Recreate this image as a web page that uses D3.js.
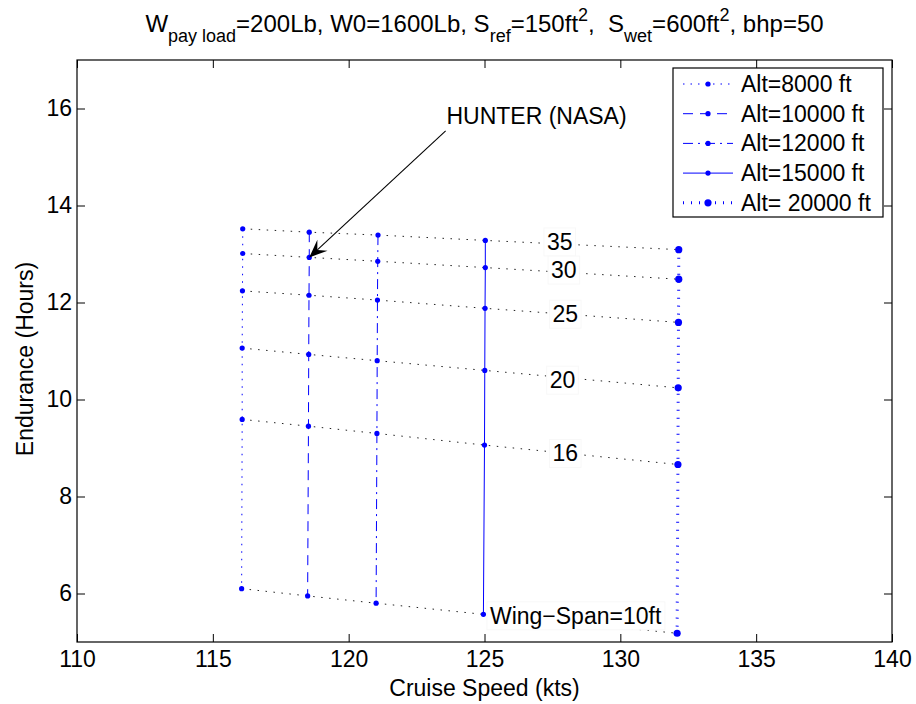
<!DOCTYPE html>
<html>
<head>
<meta charset="utf-8">
<script src="https://cdn.jsdelivr.net/npm/d3@7"></script>
<style>
  body { margin: 0; background: #fff; }
  text { font-family: "Liberation Sans", Arial, Helvetica, sans-serif; fill: #000; }
</style>
</head>
<body>
<svg id="chart" width="916" height="704"></svg>
<script>
// ---- data ----
const altitudeLabels = ["Alt=8000 ft", "Alt=10000 ft", "Alt=12000 ft", "Alt=15000 ft", "Alt= 20000 ft"];
const wingSpans = [35, 30, 25, 20, 16, 10];
// cruise speed (kts): one row per wing span, one column per altitude
const cruiseSpeed = [
  [116.10, 118.55, 121.08, 125.03, 132.15],
  [116.10, 118.55, 121.07, 125.03, 132.15],
  [116.09, 118.54, 121.06, 125.02, 132.14],
  [116.08, 118.53, 121.05, 125.01, 132.13],
  [116.08, 118.52, 121.04, 125.00, 132.12],
  [116.06, 118.49, 121.01, 124.96, 132.09]
];
// endurance (hours): one row per wing span, one column per altitude
const endurance = [
  [13.52, 13.45, 13.39, 13.28, 13.09],
  [13.01, 12.93, 12.85, 12.72, 12.48],
  [12.24, 12.15, 12.05, 11.88, 11.59],
  [11.06, 10.93, 10.80, 10.60, 10.24],
  [9.59, 9.45, 9.30, 9.06, 8.66],
  [6.10, 5.95, 5.80, 5.57, 5.18]
];
const xTicks = [110, 115, 120, 125, 130, 135, 140];
const yTicks = [6, 8, 10, 12, 14, 16];
const spanLabels = ["35", "30", "25", "20", "16", "Wing\u2212Span=10ft"];
const spanLabelX = [127.3, 127.45, 127.5, 127.4, 127.5, 125.2];
const spanLabelY = [13.25, 12.67, 11.76, 10.40, 8.89, 5.54];
const hunterText = "HUNTER (NASA)";
const hunterTextPos = [123.6, 15.85];
const hunterTail = [123.57, 15.54];
const hunterSpan = 1, hunterAlt = 1;

// ---- layout ----
const svg = d3.select("#chart");
const mLeft = 77, mRight = 892, mTop = 60, mBottom = 642;
const x = d3.scaleLinear().domain([110, 140]).range([mLeft, mRight]);
const y = d3.scaleLinear().domain([5, 17]).range([mBottom, mTop]);
const blue = "#0000ff";
const FONT = 23;

const lineStyles = [
  { dash: "1.5,6", width: 1, r: 2.6 },
  { dash: "10,7", width: 1, r: 2.6 },
  { dash: "10,5,2,5", width: 1, r: 2.6 },
  { dash: null, width: 1, r: 2.6 },
  { dash: "1,7", width: 3, r: 3.6 }
];

// ---- axes ----
function styleAxis(g) {
  g.select(".domain").remove();
  g.selectAll(".tick line").attr("stroke", "#000");
  g.selectAll(".tick text").attr("font-size", FONT).attr("font-family", null);
}
svg.append("g").attr("transform", `translate(0,${mBottom})`)
  .call(d3.axisBottom(x).tickValues(xTicks).tickSizeInner(-8).tickSizeOuter(0).tickPadding(9))
  .call(styleAxis);
svg.append("g").attr("transform", `translate(0,${mTop})`)
  .call(d3.axisTop(x).tickValues(xTicks).tickSizeInner(-8).tickSizeOuter(0).tickFormat(""))
  .call(styleAxis);
svg.append("g").attr("transform", `translate(${mLeft},0)`)
  .call(d3.axisLeft(y).tickValues(yTicks).tickSizeInner(-8).tickSizeOuter(0).tickPadding(5))
  .call(styleAxis);
svg.append("g").attr("transform", `translate(${mRight},0)`)
  .call(d3.axisRight(y).tickValues(yTicks).tickSizeInner(-8).tickSizeOuter(0).tickFormat(""))
  .call(styleAxis);
svg.append("rect").attr("x", mLeft).attr("y", mTop)
  .attr("width", mRight - mLeft).attr("height", mBottom - mTop)
  .attr("fill", "none").attr("stroke", "#000").attr("stroke-width", 1.2);

// ---- constant wing-span lines (black dotted) ----
const line = d3.line().x(d => x(d[0])).y(d => y(d[1]));
const plot = svg.append("g");
wingSpans.forEach((s, i) => {
  const pts = cruiseSpeed[i].map((v, j) => [v, endurance[i][j]]);
  plot.append("path").attr("d", line(pts)).attr("fill", "none")
    .attr("stroke", "#222").attr("stroke-width", 1).attr("stroke-dasharray", "1.5,6.5");
});

// ---- constant altitude lines (blue) ----
altitudeLabels.forEach((a, j) => {
  const st = lineStyles[j];
  const pts = wingSpans.map((s, i) => [cruiseSpeed[i][j], endurance[i][j]]);
  plot.append("path").attr("d", line(pts)).attr("fill", "none")
    .attr("stroke", blue).attr("stroke-width", st.width)
    .attr("stroke-dasharray", st.dash);
  plot.selectAll(null).data(pts).enter().append("circle")
    .attr("cx", d => x(d[0])).attr("cy", d => y(d[1])).attr("r", st.r).attr("fill", blue);
});

// ---- wing-span labels with white background ----
spanLabels.forEach((t, i) => {
  const g = svg.append("g");
  const txt = g.append("text").attr("x", x(spanLabelX[i])).attr("y", y(spanLabelY[i]))
    .attr("dy", "0.35em").attr("font-size", FONT).text(t);
  const bb = txt.node().getBBox();
  g.insert("rect", "text").attr("x", bb.x - 3).attr("y", bb.y - 1)
    .attr("width", bb.width + 6).attr("height", bb.height + 2)
    .attr("fill", "#fff").attr("stroke", "#f8f8f8").attr("stroke-width", 1);
});

// ---- HUNTER annotation arrow ----
{
  const x1 = x(hunterTail[0]), y1 = y(hunterTail[1]);
  const x2 = x(cruiseSpeed[hunterSpan][hunterAlt]), y2 = y(endurance[hunterSpan][hunterAlt]);
  const ang = Math.atan2(y2 - y1, x2 - x1);
  const L = 18, W = 7.5, notch = 11;
  const ux = Math.cos(ang), uy = Math.sin(ang), px = -uy, py = ux;
  const bx = x2 - ux * L, by = y2 - uy * L;
  const nx = x2 - ux * notch, ny = y2 - uy * notch;
  svg.append("line").attr("x1", x1).attr("y1", y1).attr("x2", nx).attr("y2", ny)
    .attr("stroke", "#000").attr("stroke-width", 1.1);
  svg.append("path")
    .attr("d", `M${x2},${y2}L${bx + px * W},${by + py * W}L${nx},${ny}L${bx - px * W},${by - py * W}Z`)
    .attr("fill", "#000");
  svg.append("text").attr("x", x(hunterTextPos[0])).attr("y", y(hunterTextPos[1]))
    .attr("dy", "0.35em").attr("font-size", FONT).text(hunterText);
}

// ---- legend ----
{
  const lg = svg.append("g");
  lg.append("rect").attr("x", 673).attr("y", 68).attr("width", 210).attr("height", 149)
    .attr("fill", "#fff").attr("stroke", "#000").attr("stroke-width", 1.2);
  altitudeLabels.forEach((a, j) => {
    const st = lineStyles[j];
    const cy = 84 + j * 29.7;
    lg.append("line").attr("x1", 683).attr("x2", 733).attr("y1", cy).attr("y2", cy)
      .attr("stroke", blue).attr("stroke-width", st.width).attr("stroke-dasharray", st.dash);
    lg.append("circle").attr("cx", 708).attr("cy", cy).attr("r", st.r).attr("fill", blue);
    lg.append("text").attr("x", 741).attr("y", cy).attr("dy", "0.35em")
      .attr("font-size", FONT).text(a);
  });
}

// ---- axis labels ----
svg.append("text").attr("x", (mLeft + mRight) / 2).attr("y", 696)
  .attr("text-anchor", "middle").attr("font-size", FONT).text("Cruise Speed (kts)");
svg.append("text").attr("transform", `translate(33,${(mTop + mBottom) / 2 + 8}) rotate(-90)`)
  .attr("text-anchor", "middle").attr("font-size", FONT).text("Endurance (Hours)");

// ---- title with sub/superscripts ----
{
  const parts = [
    ["W", 0], ["pay load", 1], ["=200Lb, W0=1600Lb, S", 0], ["ref", 1], ["=150ft", 0], ["2", 2],
    [",\u00a0\u00a0S", 0], ["wet", 1], ["=600ft", 0], ["2", 2], [", bhp=50", 0]
  ];
  const t = svg.append("text").attr("x", (mLeft + mRight) / 2).attr("y", 32)
    .attr("text-anchor", "middle").attr("font-size", 24);
  let cur = 0;
  parts.forEach(([s, k]) => {
    const off = k === 1 ? 10 : k === 2 ? -11 : 0;
    t.append("tspan").attr("dy", off - cur).attr("font-size", k ? 18 : 24).text(s);
    cur = off;
  });
}
</script>
</body>
</html>
